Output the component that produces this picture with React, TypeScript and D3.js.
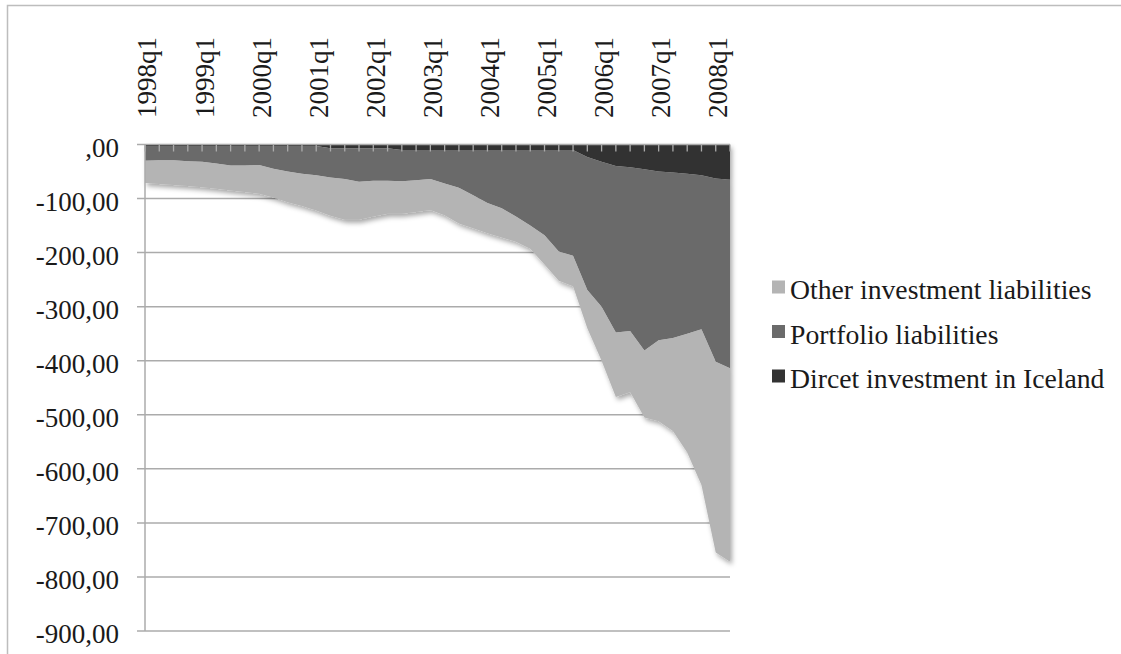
import React from "react";
import * as d3 from "d3";

const quarters = [
  "1998q1","1998q2","1998q3","1998q4","1999q1","1999q2","1999q3","1999q4",
  "2000q1","2000q2","2000q3","2000q4","2001q1","2001q2","2001q3","2001q4",
  "2002q1","2002q2","2002q3","2002q4","2003q1","2003q2","2003q3","2003q4",
  "2004q1","2004q2","2004q3","2004q4","2005q1","2005q2","2005q3","2005q4",
  "2006q1","2006q2","2006q3","2006q4","2007q1","2007q2","2007q3","2007q4",
  "2008q1","2008q2",
];

const directInvestment = [
  -3,-3,-3,-3,-3,-3,-3,-3,-3,-3,-3,-3,-3,-7,-7,-7,-7,-7,-10,-10,-10,-10,-10,-10,
  -10,-10,-10,-10,-10,-10,-10,-23,-32,-40,-42,-46,-50,-52,-54,-57,-63,-65,
];

const portfolioLiabilities = [
  -27,-26,-26,-28,-29,-32,-36,-36,-35,-42,-47,-51,-54,-54,-57,-62,-60,-60,-58,-56,
  -54,-62,-70,-84,-98,-108,-123,-140,-158,-188,-196,-246,-268,-308,-303,-335,-312,-306,
  -296,-285,-339,-349,
];

const otherInvestment = [
  -41,-44,-46,-46,-47,-47,-46,-49,-53,-53,-57,-60,-65,-71,-75,-70,-66,-61,-60,-59,
  -57,-59,-66,-61,-56,-54,-47,-43,-54,-54,-56,-71,-100,-119,-113,-124,-150,-172,
  -220,-288,-353,-358,
];

const yTicks = [0, -100, -200, -300, -400, -500, -600, -700, -800, -900];
const xLabelQuarters = ["1998q1","1999q1","2000q1","2001q1","2002q1","2003q1","2004q1","2005q1","2006q1","2007q1","2008q1"];

const seriesNames = ["Other investment liabilities", "Portfolio liabilities", "Dircet investment in Iceland"];
const seriesKeys = ["other", "portfolio", "direct"];
const seriesColors: Record<string, string> = { direct: "#333333", portfolio: "#6b6b6b", other: "#b4b4b4" };

const FONT = "'Liberation Serif', 'Times New Roman', serif";

export default function App() {
  const W = 1121, H = 654;
  const x = d3.scalePoint<string>().domain(quarters).range([145, 730]);
  const y = d3.scaleLinear().domain([-900, 0]).range([631, 144.5]);

  const rows = quarters.map((q, i) => ({
    q,
    direct: directInvestment[i],
    portfolio: portfolioLiabilities[i],
    other: otherInvestment[i],
  }));
  const stack = d3.stack<any>().keys(["direct", "portfolio", "other"]).offset(d3.stackOffsetDiverging);
  const layers = stack(rows);
  const area = d3
    .area<any>()
    .x((d) => x(d.data.q) as number)
    .y0((d) => y(d[0]))
    .y1((d) => y(d[1]));

  const gridColor = "#ababab";

  return (
    <svg width={W} height={H} style={{ position: "absolute", left: 0, top: 0, background: "#fff" }}>
      <defs>
        <filter id="shadow" x="-5%" y="-5%" width="115%" height="115%">
          <feDropShadow dx="2" dy="3" stdDeviation="2.5" floodColor="#000" floodOpacity="0.35" />
        </filter>
      </defs>
      <rect x={0} y={0} width={W} height={H} fill="#fff" />
      <path d={`M7.5,${H + 5} V5.5 H${W + 5}`} fill="none" stroke="#bdbdbd" strokeWidth={1.5} />

      {/* gridlines */}
      {yTicks.filter((t) => t !== 0).map((t) => (
        <line key={t} x1={137} x2={730} y1={y(t)} y2={y(t)} stroke={gridColor} strokeWidth={1.5} />
      ))}

      {/* areas */}
      <g filter="url(#shadow)">
        {layers.map((layer) => (
          <path key={layer.key} d={area(layer) as string} fill={seriesColors[layer.key]} />
        ))}
      </g>

      {/* axes */}
      <line x1={145} x2={145} y1={y(0)} y2={y(-900)} stroke={gridColor} strokeWidth={1.5} />
      <line x1={137} x2={730} y1={y(0)} y2={y(0)} stroke={gridColor} strokeWidth={1.5} />
      {quarters.map((q) => (
        <line key={q} x1={x(q)} x2={x(q)} y1={y(0)} y2={y(0) + 7} stroke={gridColor} strokeWidth={1.3} />
      ))}

      {/* y labels */}
      {yTicks.map((t) => (
        <text
          key={t}
          x={119}
          y={y(t)}
          dy="0.46em"
          textAnchor="end"
          fontFamily={FONT}
          fontSize={27}
          fill="#1a1a1a"
        >
          {t === 0 ? ",00" : d3.format(".2f")(t).replace(".", ",").replace("−", "-")}
        </text>
      ))}

      {/* x labels */}
      {xLabelQuarters.map((q) => (
        <text
          key={q}
          transform={`translate(${(x(q) as number) + 2},118) rotate(-90)`}
          dy="0.35em"
          textAnchor="start"
          fontFamily={FONT}
          fontSize={27}
          fill="#1a1a1a"
        >
          {q}
        </text>
      ))}

      {/* legend */}
      {seriesKeys.map((k, i) => (
        <g key={k} transform={`translate(772,${299 + i * 44.5})`}>
          <rect x={0} y={-18.5} width={13} height={13} fill={seriesColors[k]} />
          <text x={18} y={0} fontFamily={FONT} fontSize={27.7} fill="#1a1a1a">
            {seriesNames[i]}
          </text>
        </g>
      ))}
    </svg>
  );
}
